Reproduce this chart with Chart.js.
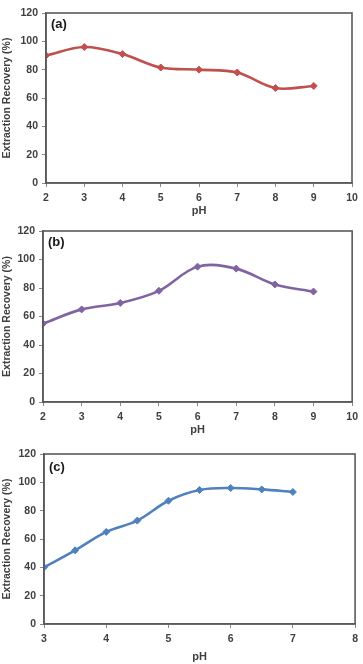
<!DOCTYPE html>
<html>
<head>
<meta charset="utf-8">
<script src="https://cdn.jsdelivr.net/npm/chart.js@4/dist/chart.umd.min.js"></script>
<style>
  html, body { margin: 0; padding: 0; background: #fff; }
  body { width: 363px; height: 664px; position: relative; overflow: hidden; }
  .panel { position: absolute; left: 0; width: 363px; }
</style>
</head>
<body>
<div class="panel" id="boxA" style="top:0px;height:218px;"><canvas id="chartA"></canvas></div>
<div class="panel" id="boxB" style="top:218px;height:219px;"><canvas id="chartB"></canvas></div>
<div class="panel" id="boxC" style="top:437px;height:227px;"><canvas id="chartC"></canvas></div>
<script>
// panel (a)
const phA = [2, 3, 4, 5, 6, 7, 8, 9];
const recoveryA = [90, 96, 91, 81.5, 80, 78, 67, 68.5];
// panel (b)
const phB = [2, 3, 4, 5, 6, 7, 8, 9];
const recoveryB = [55, 65, 69.5, 78, 95, 93.6, 82.5, 77.5];
// panel (c)
const phC = [3, 3.5, 4, 4.5, 5, 5.5, 6, 6.5, 7];
const recoveryC = [40, 52, 65, 73, 87, 94.6, 96, 95, 93.2];

const xRangeAB = [2, 10];
const xRangeC = [3, 8];
const yRange = [0, 120];

const textColor = "#404040";
const fontFamily = "'Liberation Sans', Arial, sans-serif";

// frame around plot area + panel letter
const framePlugin = {
    id: "frame",
    afterDraw(chart, args, opts) {
        const a = chart.chartArea;
        const ctx = chart.ctx;
        ctx.save();
        ctx.strokeStyle = "#5a5a5a";
        ctx.lineWidth = 1.6;
        ctx.strokeRect(a.left, a.top, a.right - a.left, a.bottom - a.top);
        ctx.fillStyle = "#1a1a1a";
        ctx.font = "bold 13px " + fontFamily;
        ctx.textBaseline = "middle";
        ctx.fillText(opts.letter, a.left + 5, a.top + opts.letterDy);
        ctx.restore();
    }
};

function makeChart(id, xs, ys, color, xRange, pad, yWidth, xHeight, letter, letterDy) {
    const pts = xs.map(function (x, i) { return { x: x, y: ys[i] }; });
    return new Chart(document.getElementById(id), {
        type: "line",
        data: {
            datasets: [{
                data: pts,
                borderColor: color,
                backgroundColor: color,
                borderWidth: 2.6,
                tension: 0.35,
                pointStyle: "rectRot",
                pointRadius: 3.5,
                pointBorderWidth: 1,
                fill: false
            }]
        },
        options: {
            responsive: true,
            maintainAspectRatio: false,
            animation: false,
            layout: { padding: pad },
            plugins: {
                legend: { display: false },
                tooltip: { enabled: false },
                frame: { letter: letter, letterDy: letterDy }
            },
            scales: {
                x: {
                    type: "linear",
                    min: xRange[0],
                    max: xRange[1],
                    afterFit: function (s) { s.height = xHeight; },
                    grid: { drawOnChartArea: false, tickLength: 4, color: "#8a8a8a" },
                    border: { color: "#5a5a5a", width: 1.6 },
                    ticks: { stepSize: 1, padding: 5, color: textColor, font: { family: fontFamily, size: 10.5, weight: "bold" } },
                    title: { display: true, text: "pH", color: textColor, padding: 0, font: { family: fontFamily, size: 11, weight: "bold" } }
                },
                y: {
                    min: yRange[0],
                    max: yRange[1],
                    afterFit: function (s) { s.width = yWidth; },
                    grid: { drawOnChartArea: false, tickLength: 4, color: "#8a8a8a" },
                    border: { color: "#5a5a5a", width: 1.6 },
                    ticks: { stepSize: 20, padding: 4, color: textColor, font: { family: fontFamily, size: 10.5, weight: "bold" } },
                    title: { display: true, text: "Extraction Recovery (%)", color: textColor, padding: 1, font: { family: fontFamily, size: 10.5, weight: "bold" } }
                }
            }
        },
        plugins: [framePlugin]
    });
}

makeChart("chartA", phA, recoveryA, "#c0504d", xRangeAB, { top: 13, right: 11, left: 0, bottom: 0 }, 46, 35, "(a)", 11);
makeChart("chartB", phB, recoveryB, "#8064a2", xRangeAB, { top: 13, right: 9, left: 0, bottom: 0 }, 43, 35, "(b)", 11);
makeChart("chartC", phC, recoveryC, "#4f81bd", xRangeC, { top: 17, right: 6, left: 0, bottom: 0 }, 44, 40, "(c)", 13);
</script>
</body>
</html>
